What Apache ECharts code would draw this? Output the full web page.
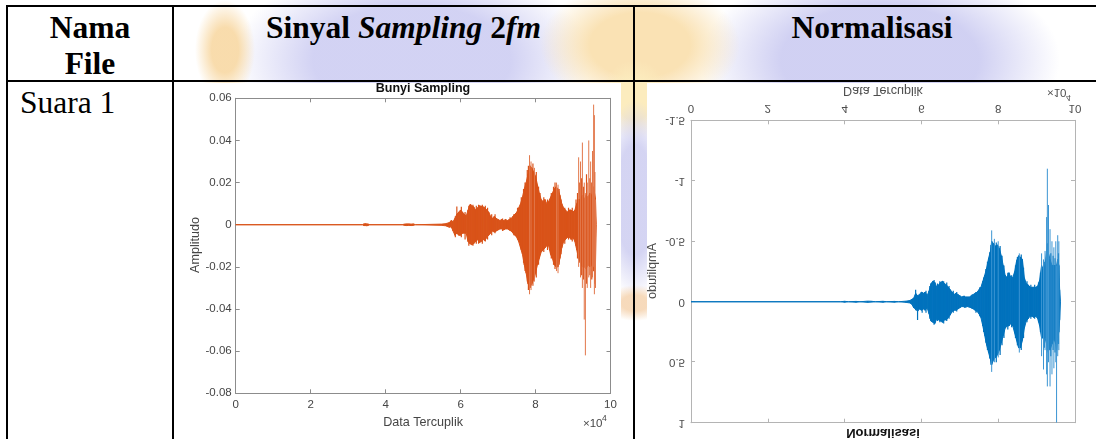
<!DOCTYPE html>
<html><head><meta charset="utf-8">
<script src="https://cdn.jsdelivr.net/npm/echarts@6/dist/echarts.min.js"></script>
<style>
html,body{margin:0;padding:0;width:1096px;height:439px;overflow:hidden;background:#fff;}
.wm{position:absolute;}
.ln{position:absolute;background:#000;}
.hd{position:absolute;font-family:"Liberation Serif","Times New Roman",serif;font-weight:bold;color:#000;font-size:31.5px;line-height:36px;text-align:center;white-space:nowrap;}
.cell{position:absolute;font-family:"Liberation Serif","Times New Roman",serif;color:#000;font-size:31.5px;line-height:36px;white-space:nowrap;}
#c1{position:absolute;left:187px;top:83px;width:434px;height:356px;background:#fff;}
#c2{position:absolute;left:647px;top:83px;width:435px;height:356px;background:#fff;transform:scaleY(-1);}
</style></head>
<body>
<!-- faint background emblem (watermark), soft blobs -->
<div class="wm" style="left:232px;top:-40px;width:360px;height:200px;background:radial-gradient(closest-side,rgba(208,208,243,0.95) 55%,rgba(208,208,243,0) 100%)"></div>
<div class="wm" style="left:700px;top:-40px;width:360px;height:200px;background:radial-gradient(closest-side,rgba(206,206,242,0.95) 55%,rgba(206,206,242,0) 100%)"></div>
<div class="wm" style="left:195px;top:0px;width:60px;height:100px;background:radial-gradient(closest-side,rgba(248,218,168,0.95) 45%,rgba(248,218,168,0) 100%)"></div>
<div class="wm" style="left:540px;top:-20px;width:200px;height:130px;background:radial-gradient(closest-side,rgba(250,226,180,1) 50%,rgba(252,238,196,0) 100%)"></div>
<div class="wm" style="left:600px;top:60px;width:70px;height:80px;background:radial-gradient(closest-side,rgba(252,236,190,1) 50%,rgba(252,236,190,0) 100%)"></div>
<div class="wm" style="left:600px;top:100px;width:70px;height:200px;background:radial-gradient(closest-side,rgba(210,210,242,0.95) 55%,rgba(210,210,242,0) 100%)"></div>
<div class="wm" style="left:605px;top:285px;width:60px;height:36px;background:radial-gradient(closest-side,rgba(246,216,184,0.95) 45%,rgba(246,216,184,0) 100%)"></div>
<div class="ln" style="left:6px;top:5px;width:1090px;height:2px"></div>
<div class="ln" style="left:6px;top:80px;width:1090px;height:2px"></div>
<div class="ln" style="left:6px;top:5px;width:2px;height:434px"></div>
<div class="ln" style="left:172px;top:5px;width:2px;height:434px"></div>
<div class="ln" style="left:633px;top:5px;width:2px;height:434px"></div>
<div class="hd" style="left:8px;width:164px;top:10px">Nama<br>File</div>
<div class="hd" style="left:174px;width:459px;top:10px">Sinyal <i>Sampling</i> 2<i>fm</i></div>
<div class="hd" style="left:635px;width:474px;top:10px">Normalisasi</div>
<div class="cell" style="left:20px;top:85px">Suara 1</div>
<div id="c1"></div>
<div id="c2"></div>
<script>
// ---------- data (x in units of 10^4 samples) ----------
const xTicks = [0, 2, 4, 6, 8, 10];
const leftTitle = 'Bunyi Sampling';
const rightTitle = 'Normalisasi';
const xName = 'Data Tercuplik';
const yName = 'Amplitudo';
// dense core of the sampled signal (orange): [x, upper, lower]
const orangeTrace = [
 [0,0,0],[3.38,0,0],[3.42,0.0004,-0.0004],[3.46,0.0005,-0.0004],[3.50,0.0004,-0.0005],[3.54,0.0003,-0.0003],[3.58,0,0],
 [4.44,0,0],[4.50,0.0003,-0.0003],[4.56,0.0004,-0.0004],[4.62,0.0004,-0.0003],[4.68,0.0003,-0.0004],[4.74,0.0004,-0.0003],[4.80,0,0],
 [5.50,0.0003,-0.0003],[5.60,0.0005,-0.0005],[5.70,0.001,-0.0012],[5.75,0.002,-0.001],[5.80,0.0015,-0.003],
 [5.85,0.003,-0.005],[5.90,0.005,-0.004],[5.95,0.006,-0.005],[6.00,0.007,-0.005],[6.05,0.006,-0.004],
 [6.10,0.005,-0.004],[6.15,0.004,-0.004],[6.20,0.007,-0.008],[6.25,0.0095,-0.009],[6.30,0.009,-0.0095],
 [6.35,0.0085,-0.009],[6.40,0.007,-0.008],[6.45,0.008,-0.007],[6.50,0.009,-0.0085],[6.55,0.0088,-0.008],
 [6.60,0.0085,-0.007],[6.65,0.008,-0.0075],[6.70,0.007,-0.006],[6.75,0.006,-0.005],[6.80,0.004,-0.004],
 [6.85,0.003,-0.003],[6.90,0.004,-0.0035],[6.95,0.003,-0.003],[7.00,0.0025,-0.0025],[7.05,0.002,-0.002],
 [7.10,0.0025,-0.002],[7.15,0.002,-0.0025],[7.20,0.0025,-0.002],[7.25,0.002,-0.002],[7.30,0.0025,-0.0025],
 [7.35,0.003,-0.003],[7.40,0.004,-0.004],[7.45,0.005,-0.005],[7.50,0.006,-0.006],[7.55,0.008,-0.008],
 [7.60,0.010,-0.011],[7.65,0.013,-0.014],[7.70,0.017,-0.019],[7.75,0.020,-0.023],[7.80,0.024,-0.028],
 [7.85,0.028,-0.030],[7.90,0.027,-0.028],[7.95,0.025,-0.026],[8.00,0.023,-0.023],[8.05,0.019,-0.019],
 [8.10,0.015,-0.016],[8.15,0.012,-0.013],[8.20,0.011,-0.012],[8.25,0.012,-0.011],[8.30,0.010,-0.010],
 [8.35,0.011,-0.010],[8.40,0.013,-0.014],[8.45,0.015,-0.016],[8.50,0.017,-0.019],[8.55,0.018,-0.020],
 [8.60,0.017,-0.020],[8.65,0.014,-0.016],[8.70,0.010,-0.011],[8.75,0.008,-0.008],[8.80,0.007,-0.007],
 [8.85,0.006,-0.006],[8.90,0.007,-0.006],[8.95,0.007,-0.007],[9.00,0.006,-0.006],[9.05,0.007,-0.008],
 [9.10,0.010,-0.012],[9.15,0.012,-0.016],[9.20,0.012,-0.018],[9.25,0.014,-0.020],[9.30,0.012,-0.020],
 [9.35,0.014,-0.021],[9.40,0.013,-0.019],[9.45,0.015,-0.020],[9.50,0.014,-0.019],[9.55,0.018,-0.022],
 [9.60,0.012,-0.018],[9.62,0,0]
];
// short spikes along the edge of the orange core: [x, top, bottom]
const orangeEdge = [
 [5.86,0.004,-0.006],[5.90,0.0087,-0.004],[6.02,0.0085,-0.006],[6.12,0.006,-0.007],[6.22,0.009,-0.010],
 [6.27,0.0098,-0.009],[6.33,0.0095,-0.010],[6.42,0.009,-0.009],[6.48,0.0095,-0.009],[6.58,0.0095,-0.009],
 [6.66,0.009,-0.008],[6.72,0.008,-0.007],[6.83,0.005,-0.005],[6.92,0.005,-0.004],[7.12,0.003,-0.003],
 [7.32,0.0035,-0.003],[7.42,0.005,-0.005],[7.52,0.008,-0.007],[7.62,0.013,-0.012],[7.68,0.017,-0.018],
 [7.72,0.020,-0.022],[7.78,0.026,-0.027],[7.81,0.028,-0.031],[7.93,0.029,-0.029],[8.02,0.025,-0.025],
 [8.08,0.018,-0.019],[8.12,0.015,-0.014],[8.22,0.013,-0.013],[8.32,0.012,-0.012],[8.42,0.015,-0.016],
 [8.48,0.018,-0.019],[8.52,0.020,-0.021],[8.63,0.017,-0.019],[8.68,0.012,-0.014],[8.78,0.008,-0.009],
 [8.88,0.008,-0.007],[8.98,0.008,-0.008],[9.08,0.012,-0.010],[9.12,0.015,-0.016],[9.18,0.020,-0.018],
 [9.23,0.022,-0.024],[9.28,0.018,-0.026],[9.36,0.024,-0.028],[9.45,0.022,-0.024],[9.50,0.020,-0.026],
 [9.58,0.025,-0.028]
];
// tall thin spikes of the orange signal
const orangeSpikes = [
 [7.84,0.033,-0.033],[7.88,0.030,-0.031],[7.97,0.027,-0.027],[8.56,0.020,-0.022],[8.60,0.019,-0.023],
 [9.15,0.032,-0.020],[9.20,0.030,-0.025],[9.25,0.039,-0.030],[9.30,0.020,-0.045],[9.33,0.015,-0.062],
 [9.38,0.020,-0.030],[9.42,0.040,-0.025],[9.47,0.030,-0.030],[9.52,0.035,-0.025],[9.55,0.057,-0.020],
 [9.57,0.052,-0.033],[9.60,0.012,-0.030]
];
// dense core of the normalised signal (blue), values as on its axis
const blueTrace = [
 [0,0,0],[3.9,0,0],[4.0,0.004,-0.004],[4.1,0,0],[4.3,0.004,-0.003],[4.4,0,0],[4.6,0.005,-0.005],[4.7,0.003,-0.004],
 [4.8,0,0],[5.0,0.004,-0.004],[5.1,0,0],[5.3,0.004,-0.003],[5.4,0,0],[5.6,0.005,-0.005],[5.7,0.01,-0.01],
 [5.75,0.02,-0.02],[5.80,0.05,-0.03],[5.85,0.06,-0.07],[5.90,0.08,-0.05],[5.95,0.06,-0.06],[6.00,0.07,-0.08],
 [6.05,0.06,-0.07],[6.10,0.07,-0.08],[6.15,0.05,-0.05],[6.20,0.10,-0.09],[6.25,0.16,-0.15],[6.30,0.17,-0.17],
 [6.35,0.18,-0.16],[6.40,0.14,-0.12],[6.45,0.15,-0.14],[6.50,0.16,-0.16],[6.55,0.17,-0.17],[6.60,0.15,-0.15],
 [6.65,0.15,-0.14],[6.70,0.13,-0.12],[6.75,0.11,-0.10],[6.80,0.08,-0.08],[6.85,0.07,-0.06],[6.90,0.07,-0.07],
 [6.95,0.06,-0.06],[7.00,0.05,-0.05],[7.05,0.04,-0.04],[7.10,0.04,-0.045],[7.15,0.045,-0.04],[7.20,0.04,-0.04],
 [7.25,0.045,-0.04],[7.30,0.05,-0.05],[7.35,0.06,-0.06],[7.40,0.07,-0.07],[7.45,0.08,-0.08],[7.50,0.10,-0.10],
 [7.55,0.13,-0.12],[7.60,0.20,-0.17],[7.65,0.28,-0.22],[7.70,0.36,-0.28],[7.75,0.42,-0.36],[7.80,0.48,-0.42],
 [7.83,0.52,-0.50],[7.88,0.48,-0.48],[7.93,0.46,-0.46],[7.98,0.44,-0.47],[8.03,0.40,-0.44],[8.08,0.34,-0.38],
 [8.13,0.28,-0.30],[8.18,0.22,-0.22],[8.23,0.20,-0.20],[8.28,0.20,-0.24],[8.33,0.18,-0.20],[8.38,0.20,-0.20],
 [8.43,0.26,-0.25],[8.48,0.32,-0.34],[8.53,0.38,-0.38],[8.58,0.38,-0.37],[8.63,0.32,-0.35],[8.68,0.22,-0.20],
 [8.73,0.16,-0.15],[8.78,0.14,-0.14],[8.83,0.12,-0.12],[8.88,0.12,-0.12],[8.93,0.13,-0.12],[8.98,0.12,-0.12],
 [9.03,0.14,-0.13],[9.08,0.20,-0.18],[9.13,0.30,-0.30],[9.18,0.30,-0.26],[9.22,0.30,-0.30],[9.26,0.35,-0.42],
 [9.28,0.40,-0.48],[9.31,0.35,-0.40],[9.35,0.40,-0.35],[9.40,0.35,-0.30],[9.45,0.30,-0.30],[9.50,0.35,-0.30],
 [9.52,0.40,-0.30],[9.55,0.30,-0.35],[9.58,0.25,-0.30],[9.60,0.15,-0.10],[9.62,0,0]
];
// short spikes along the edge of the blue core
const blueEdge = [
 [5.85,0.07,-0.10],[5.90,0.15,-0.05],[6.02,0.09,-0.08],[6.12,0.09,-0.09],[6.22,0.14,-0.13],[6.33,0.19,-0.18],
 [6.42,0.16,-0.15],[6.48,0.17,-0.17],[6.58,0.18,-0.17],[6.66,0.16,-0.16],[6.72,0.14,-0.13],[6.83,0.09,-0.09],
 [6.92,0.08,-0.08],[7.12,0.05,-0.05],[7.32,0.06,-0.06],[7.42,0.09,-0.08],[7.52,0.12,-0.12],[7.62,0.25,-0.20],
 [7.68,0.34,-0.27],[7.72,0.40,-0.33],[7.78,0.47,-0.41],[7.81,0.52,-0.47],[7.95,0.50,-0.49],[8.05,0.44,-0.46],
 [8.10,0.36,-0.38],[8.15,0.30,-0.30],[8.25,0.23,-0.24],[8.35,0.21,-0.22],[8.45,0.30,-0.30],[8.50,0.36,-0.37],
 [8.60,0.40,-0.39],[8.66,0.30,-0.28],[8.75,0.17,-0.17],[8.85,0.14,-0.14],[8.95,0.14,-0.14],[9.05,0.17,-0.16],
 [9.10,0.25,-0.24],[9.20,0.38,-0.33],[9.30,0.42,-0.48],[9.37,0.45,-0.40],[9.43,0.40,-0.38],[9.48,0.42,-0.36],
 [9.57,0.35,-0.40]
];
// tall thin spikes of the blue signal
const blueSpikes = [
 [7.83,0.58,-0.59],[7.90,0.50,-0.52],[8.00,0.46,-0.50],[8.55,0.42,-0.40],
 [9.13,0.45,-0.40],[9.18,0.56,-0.35],[9.22,0.40,-0.42],[9.26,0.60,-0.70],[9.28,0.70,-1.10],[9.31,0.50,-0.80],
 [9.35,0.70,-0.60],[9.40,0.60,-0.50],[9.45,0.55,-0.45],[9.50,0.50,-0.50],[9.52,1.00,-0.30],[9.55,0.45,-0.55],
 [9.58,0.40,-0.50]
];
const leftY = {min:-0.08, max:0.06, interval:0.02};
const rightY = {min:-1.5, max:1, interval:0.5};

// ---------- helpers ----------
const FONT = '"Liberation Sans", Arial, Helvetica, sans-serif';
function bandSeries(trace, color){
  return {type:'custom', data:trace, clip:true, encode:{x:0, y:[1,2]},
    renderItem:(params, api) => {
      const i = params.dataIndex;
      if (i >= trace.length - 1) return null;
      const a = trace[i], b = trace[i+1];
      const pts = [api.coord([a[0], a[1]]), api.coord([b[0], b[1]]), api.coord([b[0], b[2]]), api.coord([a[0], a[2]])];
      return {type:'polygon', shape:{points:pts}, style:{fill:color, stroke:color, lineWidth:1}};
    }};
}
function spikeSeries(spikes, color, width){
  return {type:'custom', data:spikes, clip:true, encode:{x:0, y:[1,2]},
    renderItem:(params, api) => {
      const p1 = api.coord([api.value(0), api.value(1)]);
      const p2 = api.coord([api.value(0), api.value(2)]);
      return {type:'line', shape:{x1:p1[0], y1:p1[1], x2:p2[0], y2:p2[1]}, style:{stroke:color, lineWidth:width}};
    }};
}
function makeOption(cfg){
  const axLine = {show:true, onZero:false, lineStyle:{color:cfg.frame, width:1}};
  const tick = {show:true, inside:true, length:4, lineStyle:{color:cfg.frame, width:1}};
  const lab = {fontSize:11.5, color:cfg.text, fontFamily:FONT};
  const xMin = xTicks[0], xMax = xTicks[xTicks.length-1], xInt = xTicks[1]-xTicks[0];
  return {
    animation:false,
    grid:{left:cfg.grid[0], top:cfg.grid[1], right:cfg.grid[2], bottom:cfg.grid[3], outerBoundsMode:'none', containLabel:false},
    xAxis:[
      {type:'value', min:xMin, max:xMax, interval:xInt, position:'bottom',
       axisLine:axLine, axisTick:tick, splitLine:{show:false},
       axisLabel:Object.assign({margin:6}, lab),
       name:xName, nameLocation:'middle', nameGap:cfg.xGap,
       nameTextStyle:{fontSize:12.6, color:cfg.text, fontFamily:FONT}},
      {type:'value', min:xMin, max:xMax, interval:xInt, position:'top',
       axisLine:axLine, axisTick:tick, splitLine:{show:false}, axisLabel:{show:false}}
    ],
    yAxis:[
      {type:'value', min:cfg.y.min, max:cfg.y.max, interval:cfg.y.interval, position:'left',
       axisLine:axLine, axisTick:tick, splitLine:{show:false},
       axisLabel:Object.assign({margin:cfg.yMargin, formatter:v => String(+v.toFixed(cfg.dec))}, lab)},
      {type:'value', min:cfg.y.min, max:cfg.y.max, interval:cfg.y.interval, position:'right',
       axisLine:axLine, axisTick:tick, splitLine:{show:false}, axisLabel:{show:false}}
    ],
    graphic:[
      {type:'text', x:cfg.titleX, y:cfg.titleY, style:{text:cfg.title, align:'center', verticalAlign:'middle',
        fill:'#111', fontSize:cfg.titleSize, fontWeight:'bold', fontFamily:FONT}},
      {type:'text', x:cfg.yNameX, y:cfg.yNameY, rotation:Math.PI/2, style:{text:yName, align:'center', verticalAlign:'middle',
        fill:cfg.text, fontSize:12.6, fontFamily:FONT}},
      {type:'text', x:cfg.expX, y:cfg.expY, style:{text:'\u00d710', align:'left', verticalAlign:'middle',
        fill:cfg.text, fontSize:11.5, fontFamily:FONT}},
      {type:'text', x:cfg.expX+19, y:cfg.expY-5, style:{text:'4', align:'left', verticalAlign:'middle',
        fill:cfg.text, fontSize:8.5, fontFamily:FONT}}
    ],
    series:[bandSeries(cfg.trace, cfg.color), spikeSeries(cfg.edge, cfg.color, 1.2), spikeSeries(cfg.spikes, cfg.spikeColor, 1)]
  };
}
const c1 = echarts.init(document.getElementById('c1'));
c1.setOption(makeOption({
  grid:[48.7, 15.3, 10.5, 45.7], frame:'#8c8c8c', text:'#454545', y:leftY, dec:2,
  xGap:23, yMargin:4, title:leftTitle, titleX:236, titleY:6, titleSize:12.5,
  yNameX:9, yNameY:162, expX:396, expY:341,
  trace:orangeTrace, edge:orangeEdge, spikes:orangeSpikes, color:'#D95319', spikeColor:'#E2774A'
}));
const c2 = echarts.init(document.getElementById('c2'));
c2.setOption(makeOption({
  grid:[44, 16.3, 7, 37.3], frame:'#b4b4b4', text:'#4d4d4d', y:rightY, dec:1,
  xGap:23, yMargin:6, title:rightTitle, titleX:236, titleY:6, titleSize:13,
  yNameX:6, yNameY:168, expX:400, expY:347,
  trace:blueTrace, edge:blueEdge, spikes:blueSpikes, color:'#0072BD', spikeColor:'#3B95D3'
}));
</script>
</body></html>
